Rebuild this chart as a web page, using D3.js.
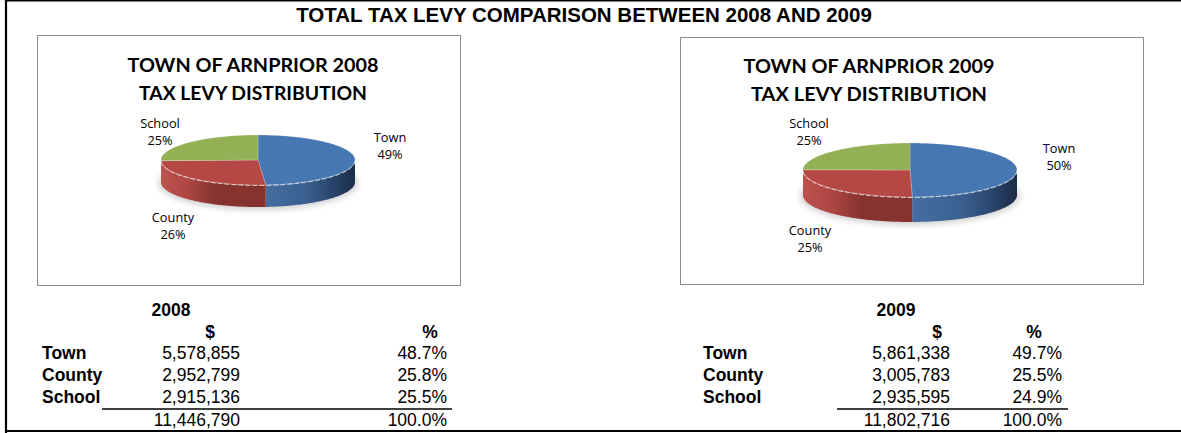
<html>
<head>
<script src="https://d3js.org/d3.v7.min.js"></script>
<style>
  body { margin: 0; background: #fff; }
  svg text { font-family: "Liberation Sans", Arial, sans-serif; fill: #000; }
  .ctitle { font-family: Lato, "Open Sans", sans-serif; font-weight: bold; font-size: 19px; }
  .plabel { font-family: "Open Sans", sans-serif; font-size: 12.8px; }
  .tab { font-size: 17.5px; }
  .b { font-weight: bold; }
</style>
</head>
<body>
<div id="chart"></div>
<script>
// data
const categories = ["Town", "County", "School"];
const years = ["2008", "2009"];
const levy2008 = [5578855, 2952799, 2915136];
const levy2009 = [5861338, 3005783, 2935595];
const pieTitles = [
  ["TOWN OF ARNPRIOR 2008", "TAX LEVY DISTRIBUTION"],
  ["TOWN OF ARNPRIOR 2009", "TAX LEVY DISTRIBUTION"]
];
const mainTitle = "TOTAL TAX LEVY COMPARISON BETWEEN 2008 AND 2009";

const topColors = ["#4677B2", "#B54845", "#93B055"];
const wallStops = [
  [["0%", "#456fa3"], ["50%", "#3a5f8f"], ["75%", "#2a4670"], ["100%", "#1b2c46"]],
  [["0%", "#bb524e"], ["25%", "#ad4743"], ["50%", "#86322f"], ["100%", "#86322f"]],
  [["0%", "#86a24a"], ["100%", "#86a24a"]]
];

const W = 1181, H = 433;
const svg = d3.select("#chart").append("svg")
  .attr("width", W).attr("height", H);
const defs = svg.append("defs");
defs.append("filter").attr("id", "blur")
  .attr("x", "-20%").attr("y", "-50%").attr("width", "140%").attr("height", "200%")
  .append("feGaussianBlur").attr("stdDeviation", 3);

// frame
svg.append("line").attr("x1", 5).attr("x2", W).attr("y1", 0.8).attr("y2", 0.8)
  .attr("stroke", "#000").attr("stroke-width", 1.6);
svg.append("line").attr("x1", 6).attr("x2", 6).attr("y1", 0).attr("y2", H)
  .attr("stroke", "#000").attr("stroke-width", 2.2);
svg.append("line").attr("x1", 5).attr("x2", W).attr("y1", 431).attr("y2", 431)
  .attr("stroke", "#000").attr("stroke-width", 1.8);

svg.append("text").attr("x", 584).attr("y", 22)
  .attr("text-anchor", "middle").attr("class", "b")
  .style("font-size", "20.5px").text(mainTitle);

const charts = [
  { values: levy2008, box: [37, 35, 460, 285], cx: 258, cy: 160, rx: 97, ry: 25, depth: 22,
    titleX: 253, titleY: [72, 100], titleLen: [251, 228],
    labels: [[390, 137], [173, 217], [160, 123]] },
  { values: levy2009, box: [680, 37, 1143, 284], cx: 910, cy: 170, rx: 107, ry: 27, depth: 25,
    titleX: 869, titleY: [73, 101], titleLen: [251, 236],
    labels: [[1059, 148], [810, 230], [809, 123]] }
];

const pie = d3.pie().sort(null).startAngle(0).endAngle(2 * Math.PI);
const pctFmt = d3.format(".0%");

function pt(c, a, dy) {
  return [c.cx + c.rx * Math.sin(a), c.cy - c.ry * Math.cos(a) + (dy || 0)];
}
function arcPoints(c, a0, a1, dy) {
  const n = Math.max(2, Math.ceil(Math.abs(a1 - a0) / 0.02));
  return d3.range(n + 1).map(i => pt(c, a0 + (a1 - a0) * i / n, dy));
}

charts.forEach((c, ci) => {
  const g = svg.append("g");
  const [x0, y0, x1, y1] = c.box;
  g.append("rect").attr("x", x0 + 0.5).attr("y", y0 + 0.5)
    .attr("width", x1 - x0).attr("height", y1 - y0)
    .attr("fill", "#fff").attr("stroke", "#8c8c8c").attr("stroke-width", 1);

  pieTitles[ci].forEach((t, i) => {
    g.append("text").attr("class", "ctitle")
      .attr("x", c.titleX).attr("y", c.titleY[i])
      .attr("text-anchor", "middle")
      .attr("textLength", c.titleLen[i]).attr("lengthAdjust", "spacingAndGlyphs")
      .text(t);
  });

  const total = d3.sum(c.values);
  const arcs = pie(c.values);

  // soft shadow under the pie
  g.append("ellipse").attr("cx", c.cx).attr("cy", c.cy + c.depth + 1)
    .attr("rx", c.rx + 3).attr("ry", c.ry + 2)
    .attr("fill", "#000").attr("opacity", 0.18).attr("filter", "url(#blur)");

  // walls (front half only)
  arcs.forEach((d, i) => {
    const gid = "wall" + ci + "_" + i;
    const grad = defs.append("linearGradient").attr("id", gid)
      .attr("gradientUnits", "userSpaceOnUse")
      .attr("x1", i === 1 ? c.cx - c.rx : c.cx).attr("x2", i === 1 ? c.cx + c.rx * 0.1 : c.cx + c.rx)
      .attr("y1", 0).attr("y2", 0);
    wallStops[i].forEach(s => grad.append("stop").attr("offset", s[0]).attr("stop-color", s[1]));
    const a0 = Math.max(d.startAngle, Math.PI / 2);
    const a1 = Math.min(d.endAngle, 3 * Math.PI / 2);
    if (a1 <= a0) return;
    const pts = arcPoints(c, a0, a1, 0).concat(arcPoints(c, a1, a0, c.depth));
    g.append("path").attr("d", d3.line()(pts) + "Z")
      .attr("fill", "url(#" + gid + ")");
  });

  // top faces
  arcs.forEach((d, i) => {
    const pts = [[c.cx, c.cy]].concat(arcPoints(c, d.startAngle, d.endAngle, 0));
    g.append("path").attr("d", d3.line()(pts) + "Z")
      .attr("fill", topColors[i])
      .attr("stroke", "rgba(255,255,255,0.35)").attr("stroke-width", 0.6);
  });
  // light rim on the front edge
  g.append("path").attr("d", d3.line()(arcPoints(c, Math.PI / 2, 3 * Math.PI / 2, 0.5)))
    .attr("fill", "none").attr("stroke", "rgba(255,255,255,0.75)")
    .attr("stroke-width", 1).attr("stroke-dasharray", "5,2");

  // data labels
  arcs.forEach((d, i) => {
    const [lx, ly] = c.labels[i];
    const t = g.append("text").attr("class", "plabel").attr("text-anchor", "middle");
    t.append("tspan").attr("x", lx).attr("y", ly + 4.5).text(categories[i]);
    t.append("tspan").attr("x", lx).attr("y", ly + 4.5 + 17.5).text(pctFmt(d.data / total));
  });
});

// tables
const tables = [
  { values: levy2008, labelX: 42, valRight: 240, pctRight: 447, yearX: 171, dollarX: 210, pctX: 430, rule: [102, 452] },
  { values: levy2009, labelX: 703, valRight: 950, pctRight: 1062, yearX: 896, dollarX: 937, pctX: 1034, rule: [837, 1068] }
];
const rowY = d3.scaleOrdinal().domain(categories.concat(["total"])).range([359, 381, 403, 426]);
const numFmt = d3.format(",");
const pFmt = d3.format(".1%");

tables.forEach((t, ti) => {
  const g = svg.append("g").attr("class", "tab");
  const total = d3.sum(t.values);
  g.append("text").attr("class", "b").attr("x", t.yearX).attr("y", 316)
    .attr("text-anchor", "middle").text(years[ti]);
  g.append("text").attr("class", "b").attr("x", t.dollarX).attr("y", 338)
    .attr("text-anchor", "middle").text("$");
  g.append("text").attr("class", "b").attr("x", t.pctX).attr("y", 338)
    .attr("text-anchor", "middle").text("%");
  categories.forEach((cat, i) => {
    g.append("text").attr("class", "b").attr("x", t.labelX).attr("y", rowY(cat)).text(cat);
    g.append("text").attr("x", t.valRight).attr("y", rowY(cat))
      .attr("text-anchor", "end").text(numFmt(t.values[i]));
    g.append("text").attr("x", t.pctRight).attr("y", rowY(cat))
      .attr("text-anchor", "end").text(pFmt(t.values[i] / total));
  });
  g.append("line").attr("x1", t.rule[0]).attr("x2", t.rule[1])
    .attr("y1", 409).attr("y2", 409).attr("stroke", "#000").attr("stroke-width", 1.6);
  g.append("text").attr("x", t.valRight).attr("y", rowY("total"))
    .attr("text-anchor", "end").text(numFmt(total));
  g.append("text").attr("x", t.pctRight).attr("y", rowY("total"))
    .attr("text-anchor", "end").text(pFmt(1));
});
</script>
</body>
</html>
